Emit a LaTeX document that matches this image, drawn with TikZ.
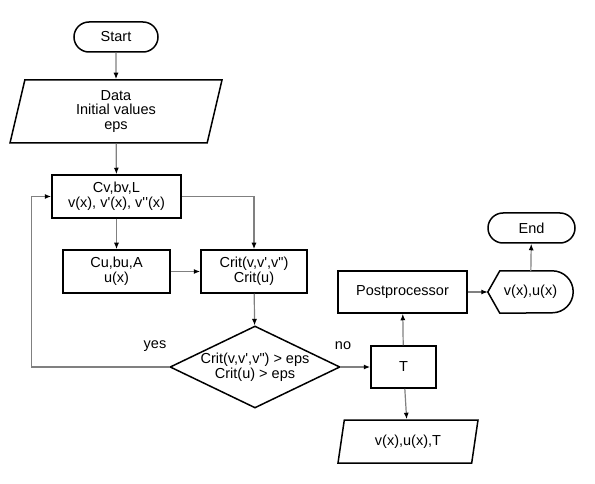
\documentclass[tikz,border=0pt]{standalone}
\usepackage{fontspec}
\newfontfamily\flowfont{Liberation Sans}
\usetikzlibrary{shapes.geometric,arrows.meta}
\begin{document}
\begin{tikzpicture}[x=1pt,y=1pt,
  every node/.style={font=\flowfont\fontsize{14.5}{14.7}\selectfont,align=center,inner sep=0pt},
  shp/.style={draw,line width=1.5pt},
  term/.style={shp,rounded corners=15pt,minimum height=30pt},
  proc/.style={shp,rectangle,minimum height=43pt},
  io/.style={shp,trapezium,trapezium stretches body,trapezium left angle=#1,trapezium right angle=180-#1},
  dec/.style={shp,diamond,aspect=2.07,minimum width=170pt,minimum height=82pt},
  con/.style={draw=black!50,line width=1.2pt,-{Latex[length=6.5pt,width=5pt,color=black]}}]
\useasboundingbox (0,0) rectangle (595,-484);
% main column
\node[term,minimum width=84pt] (start) at (116,-37) {Start};
\node[io=70.7,minimum width=212pt,minimum height=63pt] (data) at (116,-111.5) {Data\\Initial values\\eps};
\node[proc,minimum width=129pt] (cv) at (116.5,-196.5) {Cv,bv,L\\v(x), v'(x), v''(x)};
\node[proc,minimum width=107pt] (cu) at (116.5,-271.5) {Cu,bu,A\\u(x)};
\node[proc,minimum width=106pt] (crit) at (254,-271.5) {Crit(v,v',v")\\Crit(u)};
\node[dec] (chk) at (255,-367) {Crit(v,v',v") > eps\\Crit(u) > eps};
% right part
\node[proc,minimum width=65pt,minimum height=42pt] (t) at (403.5,-367) {T};
\node[proc,minimum width=129pt,minimum height=42pt] (post) at (402.5,-292) {Postprocessor};
\node[minimum width=85pt,minimum height=42pt] (disp) at (530.5,-292) {v(x),u(x)};
\draw[line width=1.5pt] (disp.west) -- ([xshift=12pt]disp.north west) -- ([xshift=-21pt]disp.north east)
  arc[start angle=90,end angle=-90,radius=21pt] -- ([xshift=12pt]disp.south west) -- cycle;
\node[term,minimum width=87pt] (end) at (531.5,-228) {End};
\node[io=65,minimum width=140pt,minimum height=43pt] (outp) at (408,-441.5) {v(x),u(x),T};
% connectors
\draw[con] (start) -- (data);
\draw[con] (data) -- (cv);
\draw[con] (cv) -- (cu);
\draw[con] (cv.east) -| (crit.north);
\draw[con] (cu) -- (crit);
\draw[con] (crit) -- (chk);
\draw[con] (chk.west) -| ([xshift=-20pt]cv.west) -- (cv.west);
\draw[con] (chk.east) -- (t.west);
\draw[con] (t) -- (post);
\draw[con] (t) -- (outp);
\draw[con] (post.east) -- (disp.west);
\draw[con] (disp) -- (end);
\node (yes) at (155,-346) {yes};
\node (no) at (343,-346) {no};
\end{tikzpicture}
\end{document}
